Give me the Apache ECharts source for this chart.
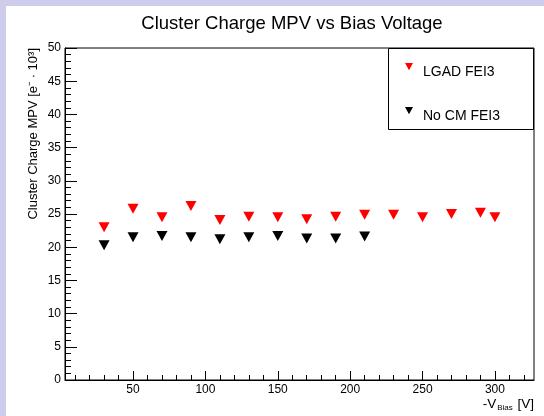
<!DOCTYPE html>
<html>
<head>
<meta charset="utf-8">
<script src="https://cdn.jsdelivr.net/npm/echarts@6/dist/echarts.min.js"></script>
<style>
  html, body { margin: 0; padding: 0; background: #cdcdeb; }
  #chart { width: 544px; height: 416px; }
</style>
</head>
<body>
<div id="chart"></div>
<script>
// bias voltage points and cluster charge MPV (x 10^3 e-)
var lgadVolts = [30, 50, 70, 90, 110, 130, 150, 170, 190, 210, 230, 250, 270, 290, 300]
var lgadMpv = [23.0, 25.8, 24.5, 26.2, 24.1, 24.6, 24.5, 24.2, 24.6, 24.9, 24.9, 24.5, 25.0, 25.2, 24.5]
var nocmVolts = [30, 50, 70, 90, 110, 130, 150, 170, 190, 210]
var nocmMpv = [20.3, 21.5, 21.7, 21.5, 21.2, 21.5, 21.7, 21.3, 21.3, 21.6]
var xMajor = [50, 100, 150, 200, 250, 300]
var xMinor = [10, 20, 30, 40, 60, 70, 80, 90, 110, 120, 130, 140, 160, 170, 180, 190, 210, 220, 230, 240, 260, 270, 280, 290, 310, 320]

var font = 'Liberation Sans, Arial, Helvetica, sans-serif'

function pairs(xs, ys) {
  return xs.map(function(x, i) { return [x, ys[i]] })
}

var chart = echarts.init(document.getElementById('chart'))
// triangle sits in the upper part of the icon box so the label ends up a bit lower
var downTri = 'path://M0,0L10,0L5,9Z M5,22L5.01,22'
var legendText = { fontFamily: font, fontSize: 14, color: '#000', padding: [0, 0, 0, 5] }

var option = {
  backgroundColor: '#cdcdeb',
  animation: false,
  title: {
    text: 'Cluster Charge MPV vs Bias Voltage',
    left: 287,
    top: 9,
    textAlign: 'center',
    textStyle: { fontFamily: font, fontSize: 18.5, fontWeight: 'normal', color: '#000' }
  },
  grid: {
    left: 65, top: 48, right: 10, bottom: 36,
    show: true, borderColor: '#000', borderWidth: 1, backgroundColor: '#fff'
  },
  xAxis: [
    {
      type: 'value', min: 3, max: 327,
      axisLine: { onZero: false, lineStyle: { color: '#000', width: 1 } },
      axisTick: { inside: true, length: 9, customValues: xMajor, lineStyle: { color: '#000' } },
      axisLabel: { customValues: xMajor, color: '#000', fontFamily: font, fontSize: 12, margin: 4 },
      splitLine: { show: false }
    },
    {
      type: 'value', min: 3, max: 327, position: 'bottom',
      axisLine: { show: false },
      axisTick: { inside: true, length: 5, customValues: xMinor, lineStyle: { color: '#000' } },
      axisLabel: { show: false },
      splitLine: { show: false }
    }
  ],
  yAxis: {
    type: 'value', min: 0, max: 50, interval: 5,
    axisLine: { show: true, lineStyle: { color: '#000', width: 1 } },
    axisTick: { show: true, inside: true, length: 12, lineStyle: { color: '#000' } },
    minorTick: { show: true, splitNumber: 5, length: 6, lineStyle: { color: '#000' } },
    axisLabel: { color: '#000', fontFamily: font, fontSize: 12, margin: 4 },
    splitLine: { show: false }
  },
  legend: [
    {
      data: [{ name: 'LGAD FEI3', icon: downTri }],
      left: 400, top: 58, itemWidth: 8, itemHeight: 20, z: 10,
      textStyle: legendText
    },
    {
      data: [{ name: 'No CM FEI3', icon: downTri }],
      left: 400, top: 102, itemWidth: 8, itemHeight: 20, z: 10,
      textStyle: legendText
    }
  ],
  graphic: [
    {
      type: 'rect', z: -100,
      shape: { x: 6, y: 6, width: 538, height: 410 },
      style: { fill: '#fff' }
    },
    {
      type: 'rect', z: 5,
      shape: { x: 388.5, y: 48.5, width: 145, height: 81 },
      style: { fill: '#fff', stroke: '#000', lineWidth: 1 }
    },
    {
      type: 'text', x: 33, y: 48, rotation: Math.PI / 2,
      style: {
        text: 'Cluster Charge MPV [e⁻ · 10³]',
        fontFamily: font, fontSize: 13, fill: '#000',
        align: 'right', verticalAlign: 'middle'
      }
    },
    {
      type: 'text', x: 534, y: 404,
      style: {
        text: '-V{sub|Bias} [V]',
        fontFamily: font, fontSize: 13.5, fill: '#000',
        align: 'right', verticalAlign: 'middle',
        rich: { sub: { fontFamily: font, fontSize: 8, fill: '#000', padding: [8, 1, 0, 1] } }
      }
    }
  ],
  series: [
    {
      name: 'LGAD FEI3', type: 'scatter',
      data: pairs(lgadVolts, lgadMpv),
      symbol: 'triangle', symbolRotate: 180, symbolSize: [11, 10],
      itemStyle: { color: '#ff0000', opacity: 1 }
    },
    {
      name: 'No CM FEI3', type: 'scatter',
      data: pairs(nocmVolts, nocmMpv),
      symbol: 'triangle', symbolRotate: 180, symbolSize: [11, 10],
      itemStyle: { color: '#000', opacity: 1 }
    }
  ]
}
chart.setOption(option)
</script>
</body>
</html>
